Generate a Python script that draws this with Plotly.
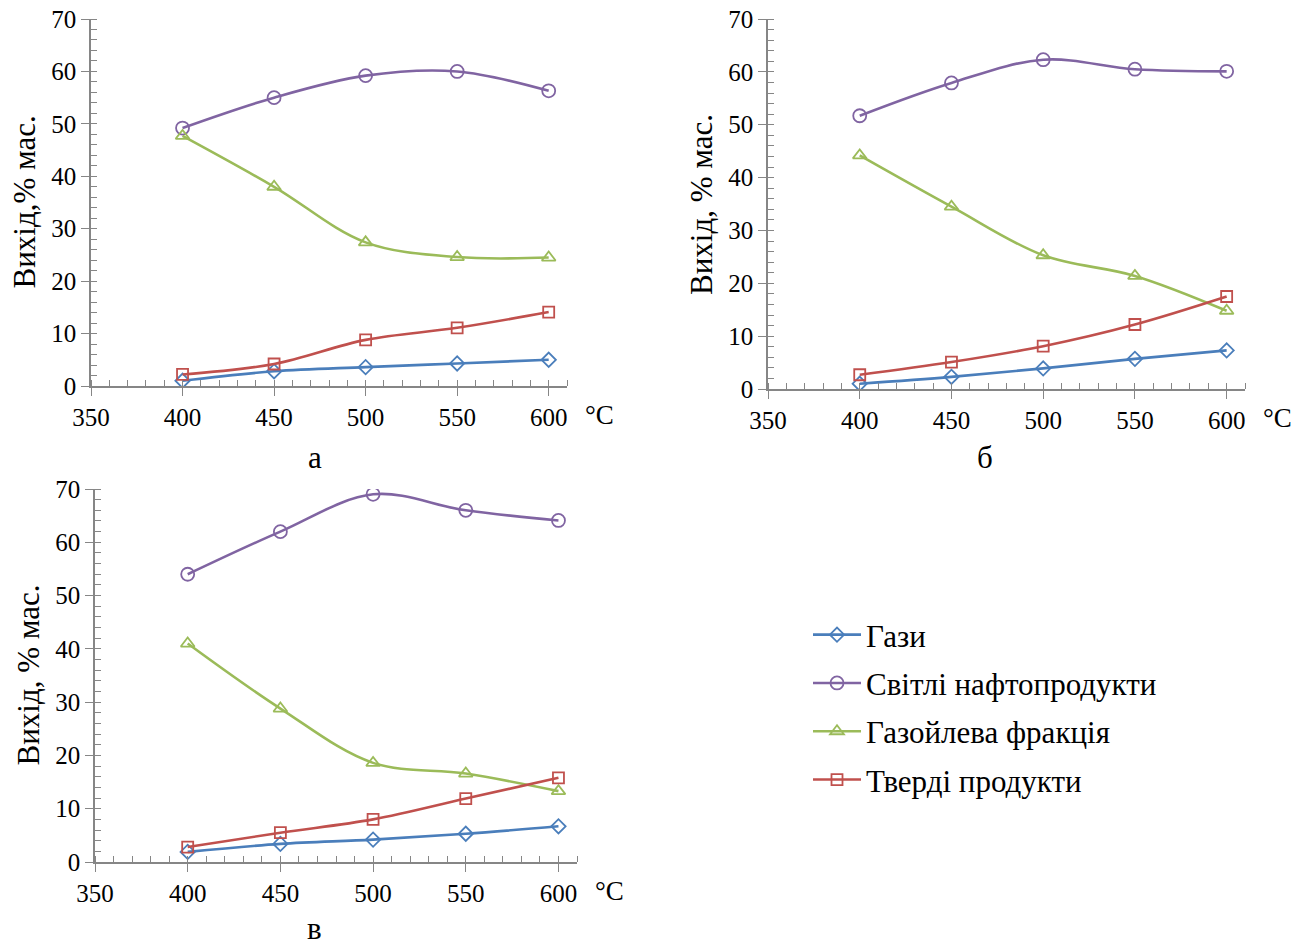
import plotly.graph_objects as go

temps = [400, 450, 500, 550, 600]
series_names = ["Гази", "Світлі нафтопродукти", "Газойлева фракція", "Тверді продукти"]

# panel а
a_gases = [1.0, 2.8, 3.6, 4.3, 5.0]
a_light = [49.2, 55.0, 59.2, 60.0, 56.3]
a_gasoil = [47.7, 38.0, 27.4, 24.6, 24.5]
a_solid = [2.2, 4.2, 8.8, 11.1, 14.1]
# panel б
b_gases = [1.0, 2.3, 3.9, 5.7, 7.3]
b_light = [51.7, 57.9, 62.3, 60.5, 60.1]
b_gasoil = [44.2, 34.5, 25.3, 21.4, 14.8]
b_solid = [2.7, 5.1, 8.1, 12.2, 17.5]
# panel в
c_gases = [1.9, 3.4, 4.2, 5.3, 6.7]
c_light = [54.0, 62.0, 69.0, 66.0, 64.1]
c_gasoil = [41.0, 28.8, 18.6, 16.6, 13.3]
c_solid = [2.8, 5.5, 8.0, 11.9, 15.8]

panel_labels = ["а", "б", "в"]
y_titles = ["Вихід,% мас.", "Вихід, % мас.", "Вихід, % мас."]
x_ticks = [350, 400, 450, 500, 550, 600]
y_ticks = [0, 10, 20, 30, 40, 50, 60, 70]

colors = ["#4A7EBB", "#8064A2", "#9BBB59", "#C0504D"]
symbols = ["diamond-open", "circle-open", "triangle-up-open", "square-open"]
msizes = [11, 13, 12, 11]

W, H = 1293, 946
FONT = "Liberation Serif"

# pixel layouts of each panel: (x_left, x_right, y_top, y_bottom)
panels = [
    (91, 567, 19, 386),
    (768, 1245, 19, 389),
    (95, 577, 489, 862),
]
letter_pos = [(315, 457), (985, 457), (314, 928)]
data = [
    [a_gases, a_light, a_gasoil, a_solid],
    [b_gases, b_light, b_gasoil, b_solid],
    [c_gases, c_light, c_gasoil, c_solid],
]

fig = go.Figure()
layout = dict(
    width=W, height=H, autosize=False,
    margin=dict(l=0, r=0, t=0, b=0),
    paper_bgcolor="white", plot_bgcolor="white",
    font=dict(family=FONT, color="black", size=24),
    showlegend=True,
)
annotations = []

for i, (pan, ser) in enumerate(zip(panels, data)):
    xl, xr, yt, yb = pan
    sfx = "" if i == 0 else str(i + 1)
    layout["xaxis" + sfx] = dict(
        domain=[xl / W, xr / W], range=[350, 610], anchor="y" + sfx, automargin=False,
        tickvals=x_ticks, ticks="outside", ticklen=8, tickcolor="#868686", tickwidth=1.3,
        showline=True, linecolor="#868686", linewidth=1.5, showgrid=False, zeroline=False,
        tickfont=dict(family=FONT, size=25, color="black"),
        minor=dict(ticks="inside", ticklen=6, dtick=10, tick0=350, tickcolor="#868686", tickwidth=1.2, showgrid=False),
        fixedrange=True,
    )
    layout["yaxis" + sfx] = dict(
        domain=[1 - yb / H, 1 - yt / H], range=[0, 70], anchor="x" + sfx, automargin=False,
        tickvals=y_ticks, ticks="outside", ticklen=8, tickcolor="#868686", tickwidth=1.3,
        showline=True, linecolor="#868686", linewidth=1.5, showgrid=False, zeroline=False,
        tickfont=dict(family=FONT, size=25, color="black"),
        minor=dict(ticks="inside", ticklen=6, dtick=2, tick0=0, tickcolor="#868686", tickwidth=1.2, showgrid=False),
        fixedrange=True,
    )
    for k, vals in enumerate(ser):
        fig.add_trace(go.Scatter(
            x=temps, y=vals, name=series_names[k],
            mode="lines+markers",
            line=dict(color=colors[k], width=2.6, shape="spline", smoothing=1),
            marker=dict(symbol=symbols[k], size=msizes[k], color=colors[k], line=dict(width=1.8, color=colors[k])),
            xaxis="x" + sfx, yaxis="y" + sfx,
            showlegend=(i == 0), legendgroup=series_names[k],
        ))
    # y title
    annotations.append(dict(
        x=(xl - 67) / W, y=1 - ((yt + yb) / 2) / H, xref="paper", yref="paper",
        text=y_titles[i], textangle=-90, showarrow=False,
        font=dict(family=FONT, size=31, color="black"), xanchor="center", yanchor="middle",
    ))
    # °C
    annotations.append(dict(
        x=(xr + 32) / W, y=1 - (yb + 29) / H, xref="paper", yref="paper",
        text="°C", showarrow=False, font=dict(family=FONT, size=27, color="black"),
        xanchor="center", yanchor="middle",
    ))
    # panel letter
    lx, ly = letter_pos[i]
    annotations.append(dict(
        x=lx / W, y=1 - ly / H, xref="paper", yref="paper", text=panel_labels[i],
        showarrow=False, font=dict(family=FONT, size=31, color="black"),
        xanchor="center", yanchor="middle",
    ))

layout["annotations"] = annotations
layout["legend"] = dict(
    x=808 / W, y=1 - 608 / H, xanchor="left", yanchor="top",
    font=dict(family=FONT, size=31, color="black"),
    bgcolor="rgba(0,0,0,0)", tracegroupgap=5, itemwidth=48,
)
fig.update_layout(**layout)
fig.write_html("out.html")
